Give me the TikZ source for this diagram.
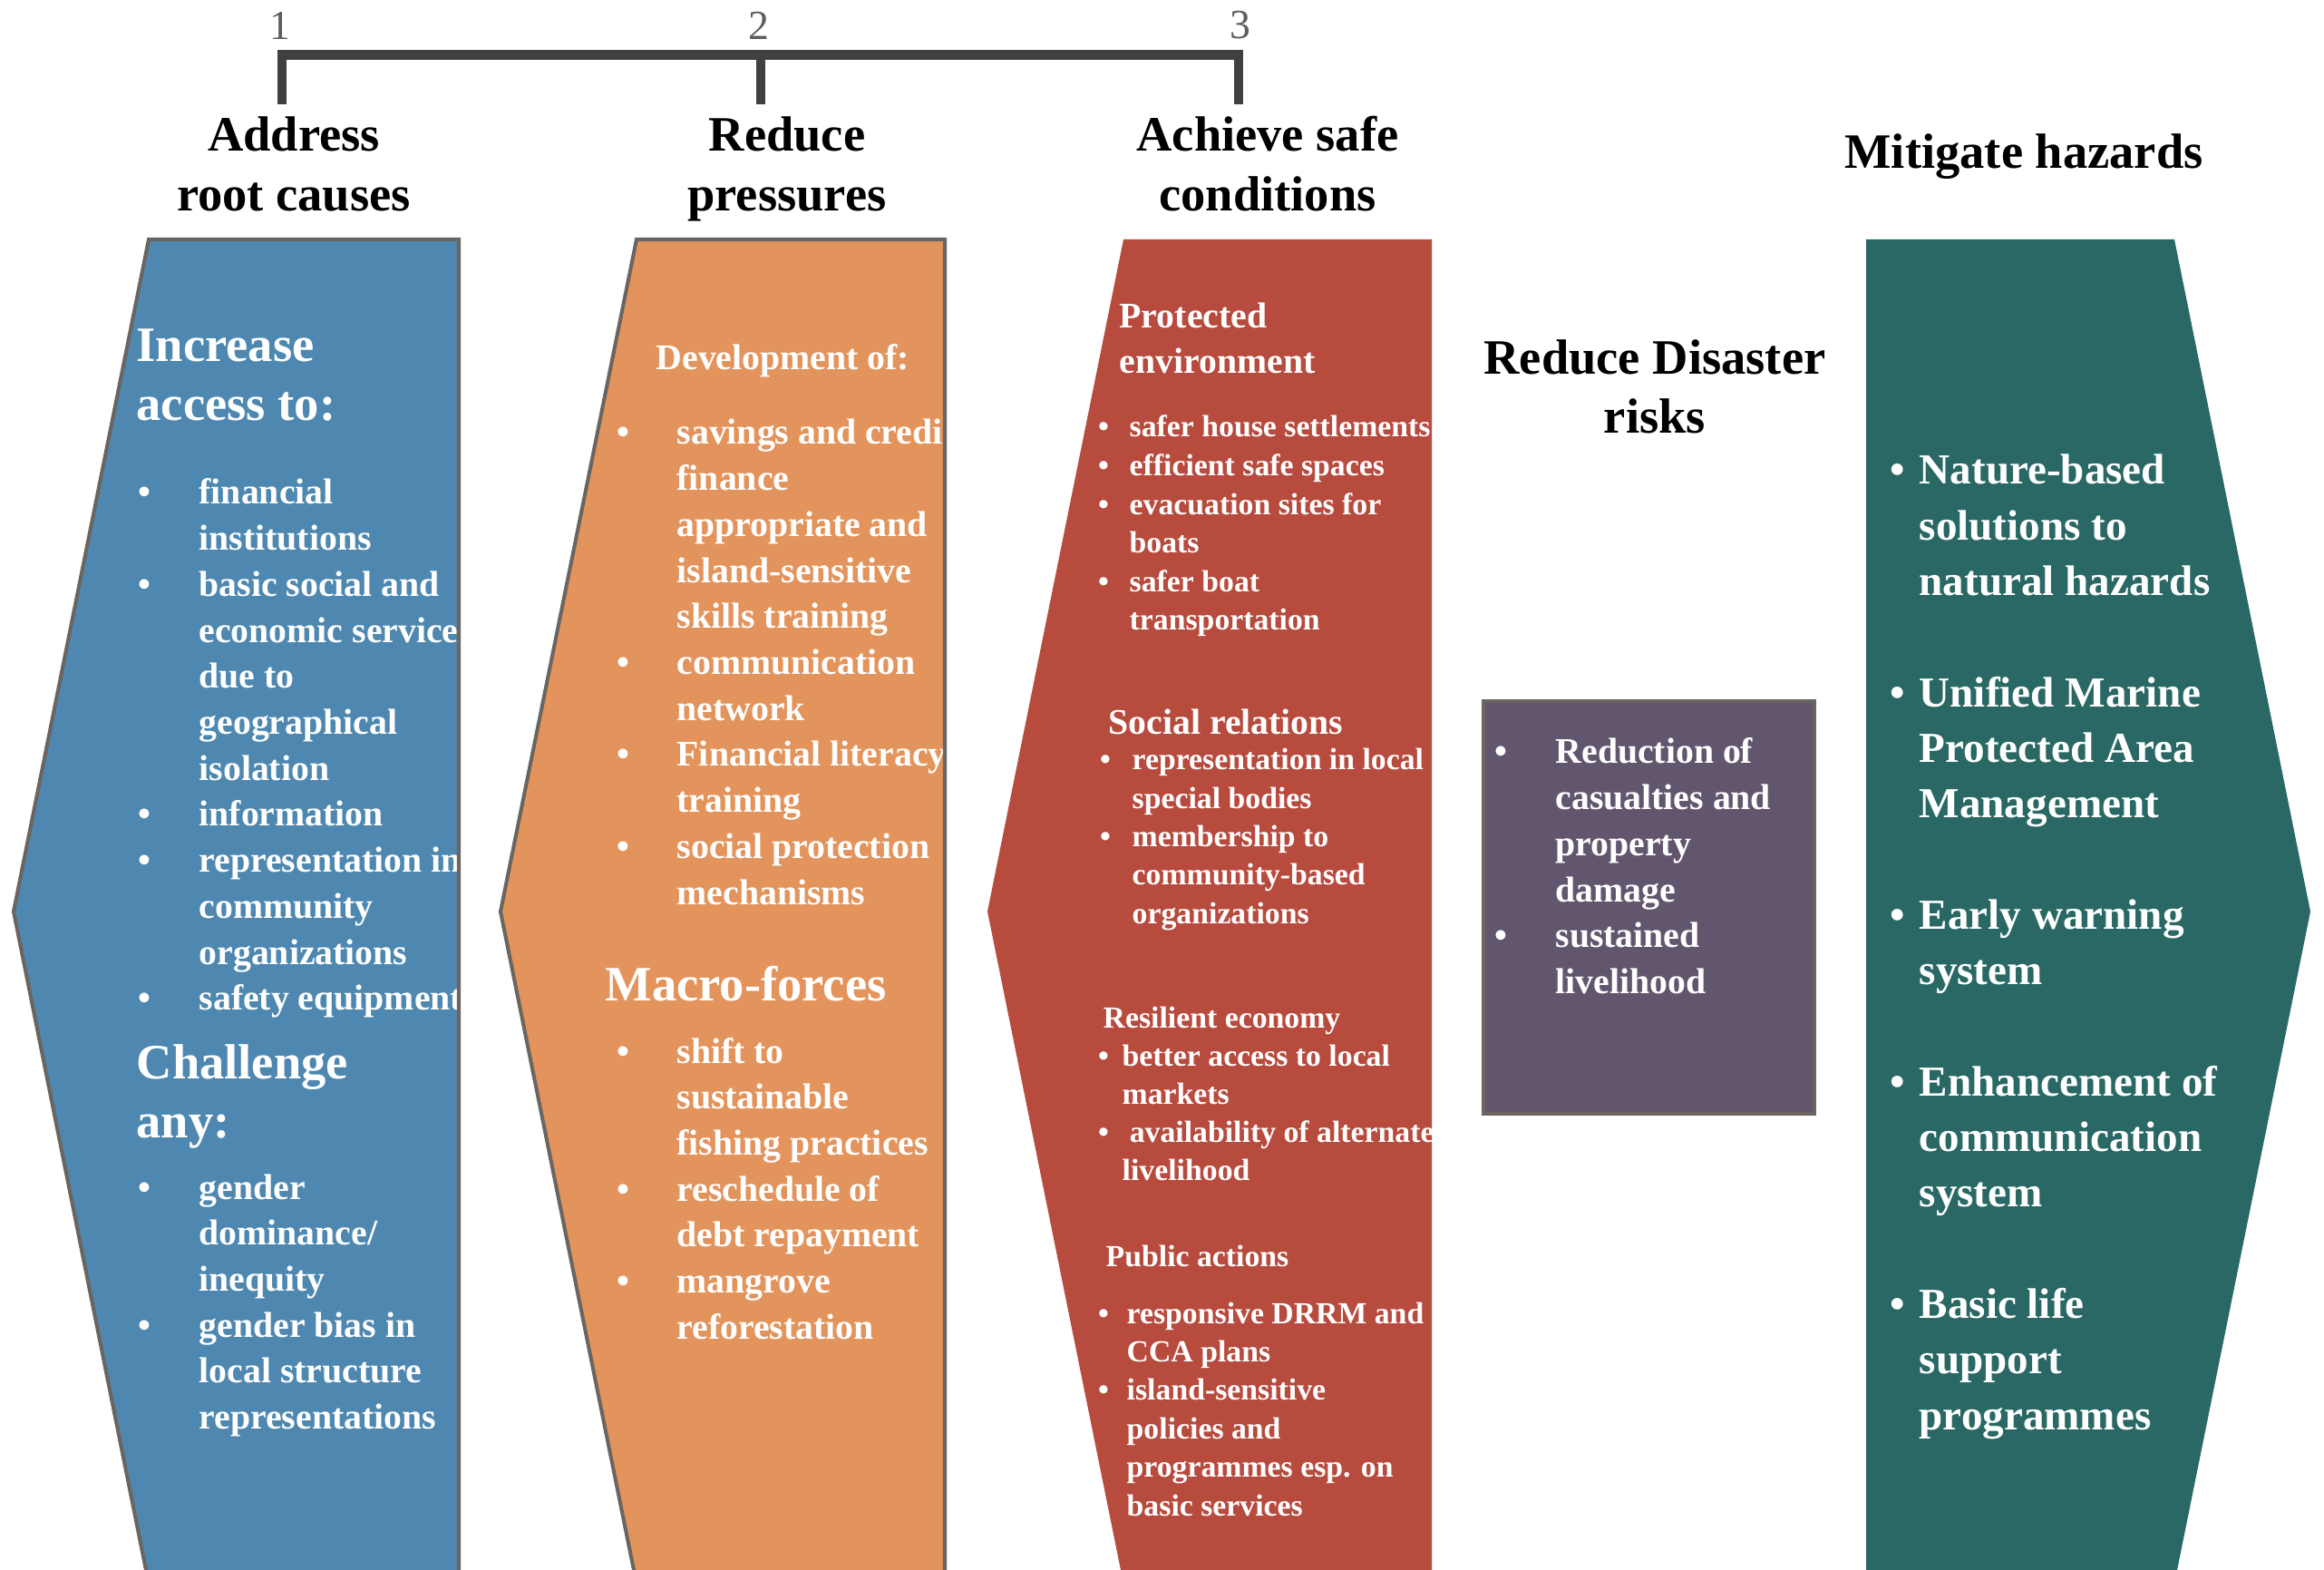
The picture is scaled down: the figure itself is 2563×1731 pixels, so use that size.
\documentclass[tikz,border=0pt]{standalone}
\usepackage{fontspec}
\setmainfont{Liberation Serif}
\usetikzlibrary{positioning}

\definecolor{rootblue}{RGB}{78,136,176}
\definecolor{pressorange}{RGB}{226,148,92}
\definecolor{safered}{RGB}{182,75,62}
\definecolor{hazteal}{RGB}{41,104,100}
\definecolor{riskpurple}{RGB}{98,86,110}
\definecolor{edgegrey}{RGB}{106,101,96}
\definecolor{rulegrey}{RGB}{64,64,64}

% one line per node: #1 name, #2 style, #3 bullet x, #4 text x, #5 first baseline, #6 step, #7 flag/text
% flag 1 = bullet, 0 = follow-on line, 9 = empty line
\newcommand{\itemlist}[7]{%
  \foreach \flag/\txt [count=\i] in {#7} {%
    \pgfmathsetmacro{\yy}{#5+#6*(\i-1)}%
    \ifnum\flag<9 \node[#2] (#1\i) at (#4,\yy) {\txt};\fi
    \ifnum\flag=1 \node[#2, anchor=base] (#1d\i) at (#3,\yy) {\textbullet};\fi
  }}

\begin{document}
\begin{tikzpicture}[x=0.01cm, y=-0.01cm,
 band/.style={draw=edgegrey, line width=1.15pt},
 head/.style={anchor=base, inner sep=0pt, font=\fontsize{15.5}{19}\selectfont\bfseries},
 num/.style={inner sep=0pt, text=rulegrey!85, font=\fontsize{13}{15}\selectfont},
 ruler/.style={draw=rulegrey, line width=3pt},
 wbig/.style={anchor=base west, inner sep=0pt, text=white, font=\fontsize{15.5}{19}\selectfont\bfseries},
 wmid/.style={wbig, font=\fontsize{11.3}{13}\selectfont\bfseries},
 wsml/.style={wbig, font=\fontsize{9.6}{11}\selectfont\bfseries},
 itm/.style={wmid},
 sitm/.style={wsml},
 titm/.style={wbig, font=\fontsize{13.4}{16}\selectfont\bfseries}]

\clip (0,0) rectangle (2563,1731);
\fill[white] (0,0) rectangle (2563,1731);

% scale 1-2-3
\node[num] (n1) at (309,28) {1};
\node[num] (n2) at (837,28) {2};
\node[num] (n3) at (1368,28) {3};
\coordinate (bar) at (0,60.5);
\coordinate (t1) at (311,115);
\coordinate (t2) at (839,115);
\coordinate (t3) at (1366,115);
\draw[ruler] (t1) -- (t1 |- bar) -- (t3 |- bar) -- (t3);
\draw[ruler] (t2) -- (t2 |- bar);

% titles
\node[head] (root1) at (324,167) {Address};
\node[head] (root2) at (324,233) {root causes};
\node[head] (press1) at (868,167) {Reduce};
\node[head] (press2) at (868,233) {pressures};
\node[head] (safe1) at (1398,167) {Achieve safe};
\node[head] (safe2) at (1398,233) {conditions};
\node[head] (haz) at (2232,186) {Mitigate hazards};
\node[head] (risk1) at (1825,413) {Reduce Disaster};
\node[head] (risk2) at (1825,478) {risks};

% root causes
\fill[rootblue] (164,264) -- (506,264) -- (506,1746) -- (164,1746) -- (15,1005) -- cycle;
\begin{scope}
\clip (164,264) -- (506,264) -- (506,1746) -- (164,1746) -- (15,1005) -- cycle;
\node[wbig] (inc1) at (150,399) {Increase};
\node[wbig] (inc2) at (150,464) {access to:};
\itemlist{acc}{itm}{159}{219}{556}{50.7}{1/financial, 0/institutions, 1/basic social and, 0/economic service, 0/due to, 0/geographical, 0/isolation, 1/information, 1/representation in, 0/community, 0/organizations, 1/safety equipment}
\node[wbig] (cha1) at (150,1189) {Challenge};
\node[wbig] (cha2) at (150,1254) {any:};
\itemlist{gen}{itm}{159}{219}{1322}{50.7}{1/gender, 0/{dominance/}, 0/inequity, 1/gender bias in, 0/local structure, 0/representations}
\end{scope}
\draw[band] (164,1746) -- (15,1005) -- (164,264) -- (506,264) -- (506,1746);

% pressures
\fill[pressorange] (702,264) -- (1042,264) -- (1042,1746) -- (702,1746) -- (552,1005) -- cycle;
\begin{scope}
\clip (702,264) -- (1042,264) -- (1042,1746) -- (702,1746) -- (552,1005) -- cycle;
\node[wmid] (devhead) at (723,408) {Development of:};
\itemlist{dev}{itm}{687}{746}{490}{50.7}{1/savings and credit, 0/finance, 0/appropriate and, 0/island-sensitive, 0/skills training, 1/communication, 0/network, 1/Financial literacy, 0/training, 1/social protection, 0/mechanisms}
\node[wbig] (machead) at (667,1103) {Macro-forces};
\itemlist{mac}{itm}{687}{746}{1172}{50.7}{1/shift to, 0/sustainable, 0/fishing practices, 1/reschedule of, 0/debt repayment, 1/mangrove, 0/reforestation}
\end{scope}
\draw[band] (702,1746) -- (552,1005) -- (702,264) -- (1042,264) -- (1042,1746);

% safe conditions
\fill[safered] (1239,264) -- (1579,264) -- (1579,1746) -- (1239,1746) -- (1089,1005) -- cycle;
\begin{scope}
\clip (1239,264) -- (1579,264) -- (1579,1746) -- (1239,1746) -- (1089,1005) -- cycle;
\node[wmid] (env1) at (1234,362) {Protected};
\node[wmid] (env2) at (1234,412) {environment};
\itemlist{env}{sitm}{1217}{1245}{482}{42.6}{1/safer house settlements, 1/efficient safe spaces, 1/evacuation sites for, 0/boats, 1/safer boat, 0/transportation}
\node[wmid] (sochead) at (1222,810) {Social relations};
\itemlist{soc}{sitm}{1219}{1248}{849}{42.25}{1/representation in local, 0/special bodies, 1/membership to, 0/community-based, 0/organizations}
\node[wsml] (ecohead) at (1216,1133) {Resilient economy};
\itemlist{eco}{sitm}{1217}{1237}{1175}{42.3}{1/better access to local, 0/markets, 1/\hspace*{2.3pt}availability of alternate, 0/livelihood}
\node[wsml] (pubhead) at (1219,1396) {Public actions};
\itemlist{pub}{sitm}{1217}{1242}{1459}{42.4}{1/responsive DRRM and, 0/CCA plans, 1/island-sensitive, 0/policies and, 0/programmes esp. on, 0/basic services}
\end{scope}

% disaster risks
\node[band, fill=riskpurple, inner sep=0pt, minimum width=3.65cm, minimum height=4.55cm] (riskbox) at (1818.5,1000.5) {};
\itemlist{risk}{itm}{1655}{1715}{842}{50.7}{1/Reduction of, 0/casualties and, 0/property, 0/damage, 1/sustained, 0/livelihood}

% hazards
\fill[hazteal] (2058,264) -- (2398,264) -- (2548,1005) -- (2398,1746) -- (2058,1746) -- cycle;
\itemlist{haz}{titm}{2093}{2116}{534}{61.3}{1/Nature-based, 0/solutions to, 0/natural hazards, 9/{}, 1/Unified Marine, 0/Protected Area, 0/Management, 9/{}, 1/Early warning, 0/system, 9/{}, 1/Enhancement of, 0/communication, 0/system, 9/{}, 1/Basic life, 0/support, 0/programmes}
\end{tikzpicture}
\end{document}
